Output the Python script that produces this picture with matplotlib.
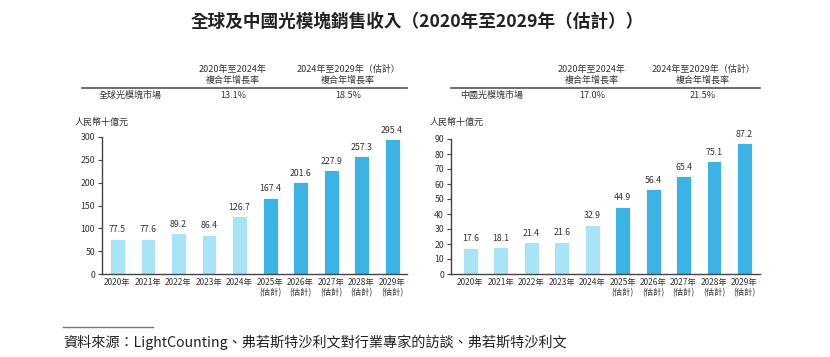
import matplotlib
matplotlib.use("Agg")
import matplotlib.pyplot as plt

plt.rcParams['font.family'] = ['Noto Sans CJK TC', 'DejaVu Sans']

# 資料
years = ["2020年", "2021年", "2022年", "2023年", "2024年",
         "2025年\n(估計)", "2026年\n(估計)", "2027年\n(估計)",
         "2028年\n(估計)", "2029年\n(估計)"]
global_vals = [77.5, 77.6, 89.2, 86.4, 126.7, 167.4, 201.6, 227.9, 257.3, 295.4]
china_vals = [17.6, 18.1, 21.4, 21.6, 32.9, 44.9, 56.4, 65.4, 75.1, 87.2]
global_ticks = [0, 50, 100, 150, 200, 250, 300]
china_ticks = [0, 10, 20, 30, 40, 50, 60, 70, 80, 90]
cagr_headers = ["2020年至2024年\n複合年增長率", "2024年至2029年（估計）\n複合年增長率"]
global_cagr = ["13.1%", "18.5%"]
china_cagr = ["17.0%", "21.5%"]
n_hist = 5

light = "#a8e4f6"
dark = "#3bb4e5"
txt = "#333333"

W, H = 830, 357
fig = plt.figure(figsize=(W / 100, H / 100), dpi=100)


def px(x, y):
    # pixel coords -> figure fraction
    return x / W, 1 - y / H


def dibujar(x0, x1, ytop, ybot, vals, ticks, xlim):
    ax = fig.add_axes([x0 / W, 1 - ybot / H, (x1 - x0) / W, (ybot - ytop) / H])
    colors = [light if i < n_hist else dark for i in range(len(vals))]
    xs = list(range(len(vals)))
    ax.bar(xs, vals, width=0.49, color=colors, edgecolor="white", linewidth=0.6)
    ax.set_ylim(0, ticks[-1])
    ax.set_xlim(*xlim)
    ax.set_yticks(ticks)
    ax.set_yticklabels([str(t) for t in ticks], fontsize=6.3, color=txt)
    ax.set_xticks(xs)
    ax.set_xticklabels(years, fontsize=6, color=txt, linespacing=1.1)
    ax.tick_params(axis="x", length=0, pad=3)
    ax.tick_params(axis="y", length=3, width=0.8, color="#444444", pad=2)
    for s in ["top", "right"]:
        ax.spines[s].set_visible(False)
    for s in ["left", "bottom"]:
        ax.spines[s].set_color("#444444")
        ax.spines[s].set_linewidth(1.0)
    for x, v in zip(xs, vals):
        ax.annotate(f"{v:.1f}", (x, v), xytext=(0, 3), textcoords="offset points",
                    ha="center", va="bottom", fontsize=6.3, color=txt)
    return ax


dibujar(102, 407, 137, 274, global_vals, global_ticks, (-0.508, 9.49))
dibujar(451, 760, 139, 274, china_vals, china_ticks, (-0.64, 9.51))

# 標題
fig.text(*px(417, 22), "全球及中國光模塊銷售收入（2020年至2029年（估計））",
         ha="center", va="center", fontsize=12.7, fontweight="bold", color="#222222")

# 複合年增長率表
def tabla(xl, xr, label, label_x, c1, c2, cagr):
    for cx, h in zip([c1, c2], cagr_headers):
        fig.text(*px(cx, 75), h, ha="center", va="center", fontsize=6.5,
                 color=txt, linespacing=1.3)
    fx0, fy = px(xl, 88)
    fx1, _ = px(xr, 88)
    fig.add_artist(plt.Line2D([fx0, fx1], [fy, fy], color="#555555", lw=1.2))
    fig.text(*px(label_x, 95), label, ha="center", va="center", fontsize=6.5, color=txt)
    for cx, v in zip([c1, c2], cagr):
        fig.text(*px(cx, 95), v, ha="center", va="center", fontsize=6.5, color=txt)


tabla(82, 407, "全球光模塊市場", 130, 233, 348, global_cagr)
tabla(451, 760, "中國光模塊市場", 492, 592, 703, china_cagr)

fig.text(*px(75, 122), "人民幣十億元", ha="left", va="center", fontsize=6.5, color=txt)
fig.text(*px(430, 122), "人民幣十億元", ha="left", va="center", fontsize=6.5, color=txt)

# 資料來源
lx0, ly = px(63, 327)
lx1, _ = px(153, 327)
fig.add_artist(plt.Line2D([lx0, lx1], [ly, ly], color="#777777", lw=1.0))
fig.text(*px(63, 342), "資料來源：LightCounting、弗若斯特沙利文對行業專家的訪談、弗若斯特沙利文",
         ha="left", va="center", fontsize=10.2, style="italic", color="#222222")

fig.savefig("out.png", dpi=100, facecolor="white")
